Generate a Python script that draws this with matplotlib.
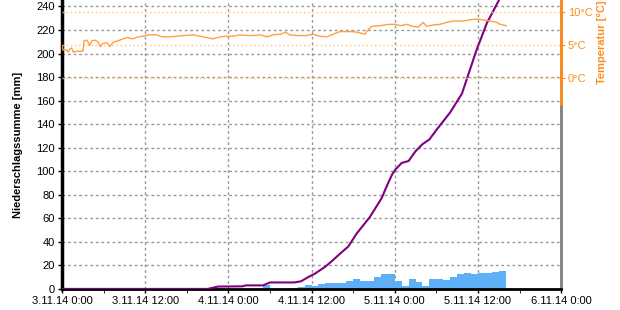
import numpy as np
import pandas as pd
import matplotlib
matplotlib.use('Agg')
import matplotlib.pyplot as plt
import matplotlib.dates as mdates
from matplotlib.ticker import FuncFormatter, MultipleLocator

plt.rcParams['font.family'] = ['Liberation Sans', 'DejaVu Sans']
plt.rcParams['font.size'] = 8

start = pd.Timestamp('2014-11-03 00:00')

# Niederschlag je Stunde (Stundenbeginn in h ab Start, mm)
bar_hours = [21, 22, 29, 33, 34, 35, 36, 37, 38, 39, 40, 41, 42, 43, 44, 45, 46,
             47, 48, 49, 50, 51, 52, 53, 54, 55, 56, 57, 58, 59, 60, 61, 62, 63]
bar_mm = [0.8, 0.8, 3.0, 0.8, 2.0, 3.4, 2.5, 4.0, 5.4, 4.8, 4.8, 6.8, 8.5, 6.8, 6.8,
          10.5, 12.5, 12.5, 6.5, 2.5, 8.2, 6.0, 2.5, 8.2, 8.2, 7.4, 10.2, 12.5,
          13.6, 12.5, 13.6, 13.6, 14.4, 15.3]

# Niederschlagssumme
sum_hours = [0, 21, 22.5, 26, 26.5, 29, 30, 33.5, 34.5, 35.5, 36.5, 38, 39, 40.5,
             41.3, 42.5, 44.4, 46.1, 46.9, 47.6, 48.1, 49, 50, 51, 52, 53, 54, 56,
             57.7, 59.8, 61.3, 63, 64]
sum_mm = [0, 0, 2, 2.2, 3, 3, 5.5, 5.5, 6.5, 10, 13, 19, 24, 32, 36, 47, 61, 77,
          88, 97, 101.5, 107, 108.7, 117, 123, 127, 135, 150, 166, 203, 226, 245, 257]

# Temperatur
temp_hours = [0, 0.15, 0.7, 0.9, 1.15, 1.4, 1.6, 2.1, 2.6, 3.0, 3.2, 3.6, 4.0, 4.3,
              4.8, 5.2, 5.5, 5.9, 6.5, 6.9, 7.4, 8.1, 8.8, 9.5, 10.2, 11.0, 11.7,
              12.4, 13.7, 14.4, 15.6, 16.6, 17.5, 18.9, 19.9, 20.9, 21.8, 22.8,
              23.8, 24.7, 25.7, 26.7, 27.6, 28.6, 29.6, 30.4, 31.5, 32.2, 32.9,
              33.9, 35.3, 36.2, 37.2, 38.2, 39.1, 40.1, 41.1, 42.0, 43.0, 43.7,
              44.0, 44.7, 45.9, 47.1, 48.1, 48.8, 49.7, 50.6, 51.4, 52.1, 52.6,
              53.5, 54.5, 55.5, 56.4, 57.9, 58.9, 59.8, 60.7, 61.8, 62.7, 63.2,
              63.6, 64.1]
temp_c = [4.9, 4.2, 4.2, 3.9, 4.4, 4.5, 3.9, 4.0, 4.0, 4.0, 5.6, 5.7, 4.9, 5.6,
          5.7, 5.4, 4.7, 5.2, 5.3, 4.7, 5.4, 5.6, 5.9, 6.1, 5.9, 6.2, 6.3, 6.5,
          6.5, 6.2, 6.2, 6.3, 6.4, 6.5, 6.3, 6.1, 5.9, 6.2, 6.3, 6.3, 6.5, 6.4,
          6.4, 6.5, 6.2, 6.5, 6.6, 6.9, 6.5, 6.4, 6.4, 6.6, 6.3, 6.2, 6.6, 7.0,
          7.0, 7.0, 6.8, 6.6, 7.1, 7.8, 7.9, 8.1, 8.1, 7.9, 8.1, 7.8, 7.7, 8.4,
          7.8, 8.0, 8.1, 8.4, 8.6, 8.6, 8.8, 8.9, 8.8, 8.6, 8.4, 8.1, 8.0, 7.9]


def to_time(hours):
    return start + pd.to_timedelta(hours, unit='h')


orange = '#ff8c1a'

fig = plt.figure(figsize=(6.2, 3.1), dpi=100)
ax = fig.add_axes([0.1, 0.068, 0.805, 0.932])

ax.bar(to_time(bar_hours), bar_mm, width=1 / 24, align='edge',
       color='#5db0f7', linewidth=0, zorder=2)
ax.plot(to_time(sum_hours), sum_mm, color='#800080', lw=1.5, zorder=3)

ax.set_xlim(start, start + pd.Timedelta(days=3))
ax.set_ylim(0, 245.5)
ax.yaxis.set_major_locator(MultipleLocator(20))
ax.xaxis.set_major_locator(mdates.HourLocator(byhour=[0, 12]))
ax.xaxis.set_minor_locator(mdates.HourLocator(byhour=[6, 18]))


def fmt_date(x, pos):
    d = mdates.num2date(x)
    return f"{d.day}.{d.month}.{d:%y} {d.hour}:{d.minute:02d}"


ax.xaxis.set_major_formatter(FuncFormatter(fmt_date))
ax.grid(True, color='#999999', linestyle=(0, (2, 2)), lw=1, zorder=0)
ax.set_axisbelow(True)
ax.tick_params(axis='both', length=3, width=1, pad=2)
ax.tick_params(axis='x', which='minor', length=3)
ax.set_ylabel('Niederschlagssumme [mm]', fontweight='bold', labelpad=10)

ax.spines['top'].set_visible(False)
ax.spines['left'].set_linewidth(2.5)
ax.spines['bottom'].set_linewidth(2)
ax.spines['right'].set_color('#808080')
ax.spines['right'].set_linewidth(2)

ax2 = ax.twinx()
ax2.plot(to_time(temp_hours), temp_c, color='#ffa040', lw=1, zorder=3)
ax2.set_ylim(-32.1, 11.8)
ax2.set_yticks([0, 5, 10])
ax2.yaxis.set_major_formatter(FuncFormatter(lambda v, p: f"{v:.0f}°C"))
ax2.yaxis.grid(True, color='#ffc080', linestyle=(0, (1, 2)), lw=1)
ax2.tick_params(axis='y', colors=orange, length=3, pad=2)
ax2.set_ylabel('Temperatur [°C]', color=orange, fontweight='bold')
ax2.yaxis.set_label_coords(1.072, 0.855)
for side in ['top', 'left', 'bottom']:
    ax2.spines[side].set_visible(False)
ax2.spines['right'].set_color(orange)
ax2.spines['right'].set_linewidth(2)
ax2.spines['right'].set_bounds(-4, 11.8)

fig.savefig('out.png', dpi=100)
